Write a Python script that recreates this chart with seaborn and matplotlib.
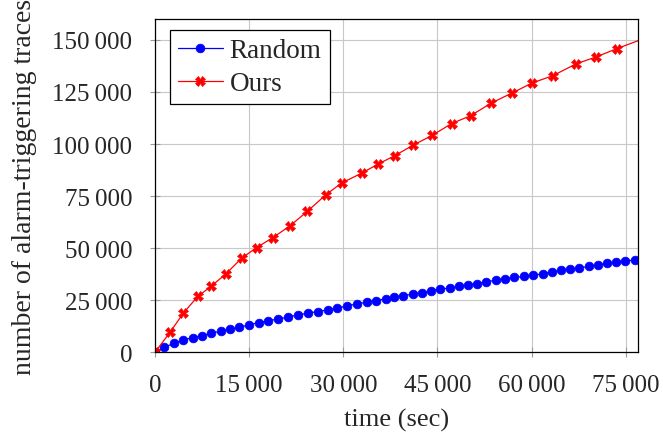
import numpy as np
import matplotlib
matplotlib.use('Agg')
import matplotlib.pyplot as plt
import matplotlib.ticker as mticker
import seaborn as sns
import pandas as pd

# data (time in sec, number of traces)
random_t = [0, 1480, 3030, 4500, 6000, 7480, 8960, 10460, 11940, 13420, 14960,
            16510, 18040, 19580, 21130, 22720, 24310, 25900, 27500, 29030, 30570,
            32160, 33700, 35190, 36730, 38050, 39530, 41070, 42550, 43940, 45480,
            46960, 48440, 49880, 51370, 52800, 54280, 55770, 57260, 58790, 60280,
            61770, 63200, 64630, 66060, 67550, 69090, 70570, 72000, 73440, 74930,
            76420]
random_n = [0, 2400, 4330, 5930, 7070, 8030, 9140, 10250, 11060, 12020, 13130,
            14280, 15050, 16010, 16830, 17940, 18750, 19570, 20340, 21150, 22260,
            23220, 24040, 24850, 25630, 26440, 27260, 27890, 28510, 29470, 30290,
            30910, 31730, 32210, 33030, 33800, 34620, 35240, 35920, 36400, 37020,
            37650, 38610, 39290, 39760, 40530, 41200, 41970, 42650, 43270, 43750,
            44380]

ours_t = [0, 2390, 4500, 6800, 8900, 11300, 13800, 16200, 18800, 21500, 24250,
          27200, 29800, 33000, 35550, 38200, 41100, 44200, 47250, 50300, 53600,
          56900, 60100, 63400, 67100, 70300, 73600, 80000]
ours_n = [0, 9600, 18750, 26800, 31600, 37650, 45200, 50300, 55100, 60700, 67600,
          75600, 81400, 86100, 90400, 94400, 99400, 104200, 109800, 113600, 119700,
          124500, 129300, 132800, 138500, 141800, 145800, 153000]

x_ticks = [0, 15000, 30000, 45000, 60000, 75000]
y_ticks = [0, 25000, 50000, 75000, 100000, 125000, 150000]

sns.set_theme(style='whitegrid')
plt.rcParams['font.family'] = ['Liberation Serif', 'DejaVu Serif']

fig = plt.figure(figsize=(6.63, 4.39), dpi=100)
ax = fig.add_axes([0.2338, 0.1952, 0.9627 - 0.2338, 0.9544 - 0.1952])

df_r = pd.DataFrame({'t': random_t, 'n': random_n})
df_o = pd.DataFrame({'t': ours_t, 'n': ours_n})

sns.lineplot(data=df_r, x='t', y='n', ax=ax, color='blue', marker='o',
             markersize=6.3, markeredgecolor='blue', markeredgewidth=0.5,
             linewidth=0.9, label='Random')
sns.lineplot(data=df_o, x='t', y='n', ax=ax, color='red', marker='X',
             markersize=6.5, markeredgecolor='red', markeredgewidth=0.5,
             linewidth=0.9, label='Ours')

ax.set_xlim(0, 77000)
ax.set_ylim(0, 160000)
ax.set_xticks(x_ticks)
ax.set_yticks(y_ticks)

fmt = mticker.FuncFormatter(lambda v, p: f'{int(v):,}'.replace(',', '\u2009'))
ax.xaxis.set_major_formatter(fmt)
ax.yaxis.set_major_formatter(fmt)

ax.grid(True, color='#c8c8c8', linewidth=0.8)
for s in ax.spines.values():
    s.set_color('black')
    s.set_linewidth(0.9)
ax.tick_params(axis='both', direction='inout', length=7, width=0.8,
               color='#999999', labelsize=18, left=True, bottom=True)
ax.tick_params(axis='y', pad=13)
ax.tick_params(axis='x', pad=12)

ax.set_xlabel('time (sec)', fontsize=19, labelpad=9)
ax.set_ylabel('number of alarm-triggering traces', fontsize=20, labelpad=11)

leg = ax.legend(loc='upper left', bbox_to_anchor=(0.031, 0.967),
                fontsize=19.5, frameon=True, fancybox=False,
                edgecolor='black', framealpha=1, borderpad=0.3,
                handlelength=1.65, handletextpad=0.25, labelspacing=0.3,
                borderaxespad=0)
leg.get_frame().set_linewidth(0.9)

fig.savefig('out.png', dpi=100)
